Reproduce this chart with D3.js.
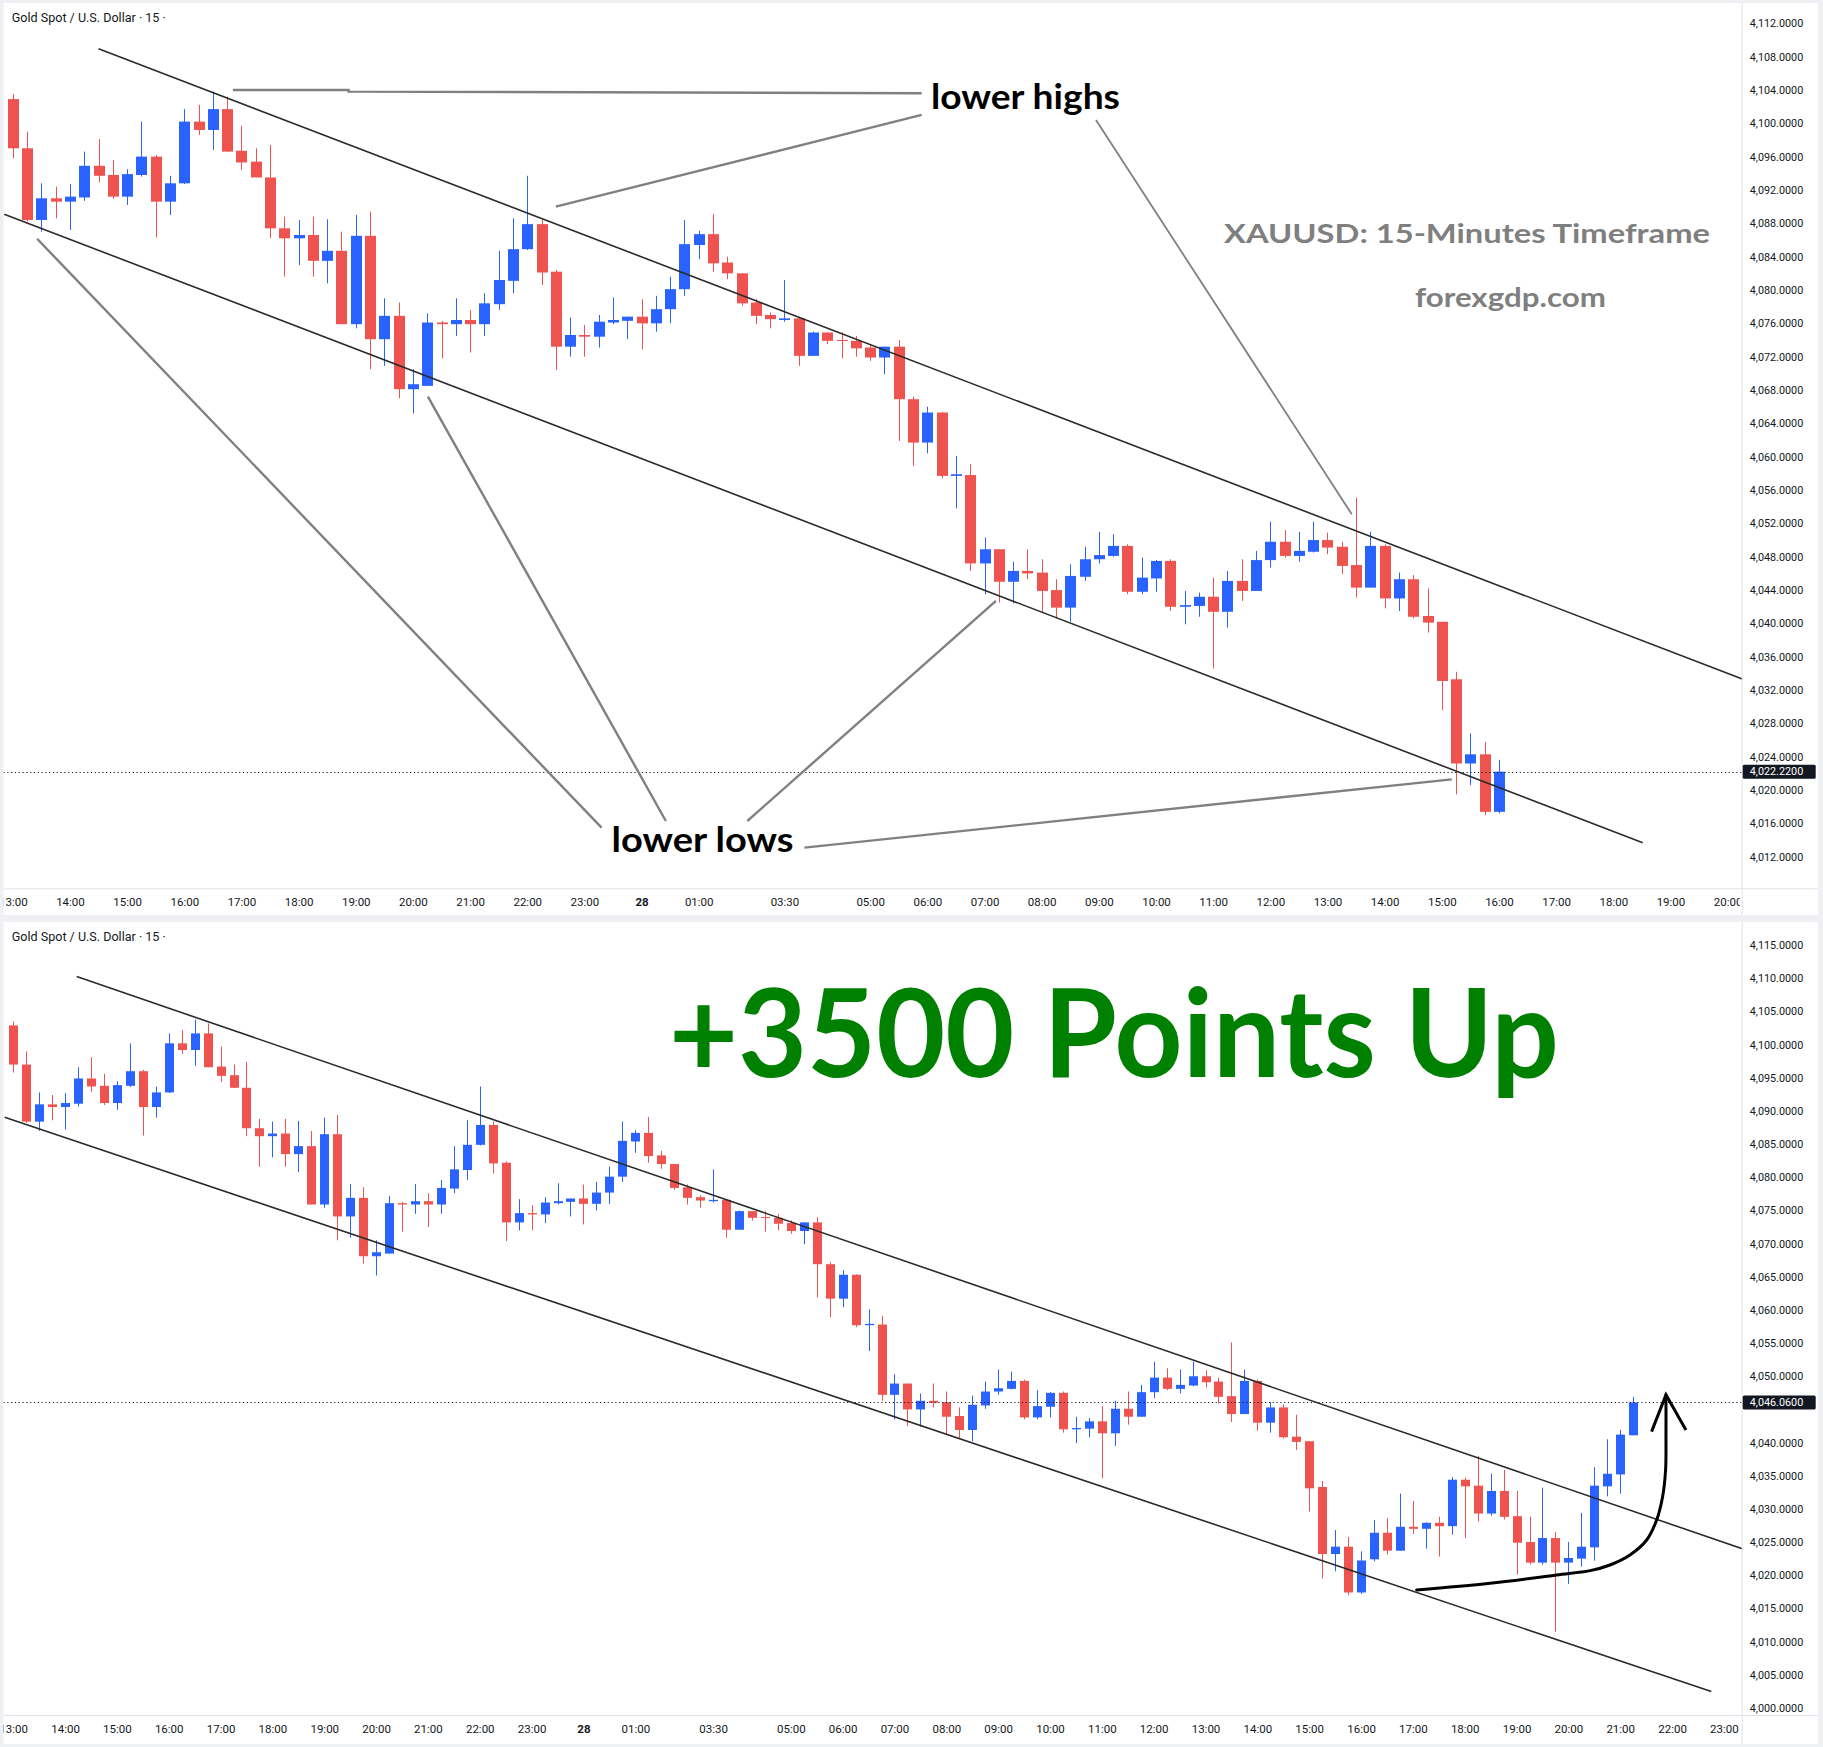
<!DOCTYPE html>
<html><head><meta charset="utf-8">
<script src="https://cdn.jsdelivr.net/npm/d3@7"></script>
<style>body{margin:0;background:#fff}svg{display:block}</style>
</head><body>
<svg id="chart" width="1823" height="1747"></svg>
<script>
// ---- DATA (XAUUSD 15-minute candles) ----
const opens  = [4102.9,4097.0,4088.4,4091.0,4090.6,4091.1,4094.9,4093.8,4091.2,4093.8,4096.0,4090.6,4092.8,4100.2,4099.2,4101.7,4096.7,4095.4,4093.5,4087.4,
                4086.2,4086.6,4083.5,4084.7,4075.9,4086.5,4074.1,4076.9,4068.1,4068.5,4076.1,4075.9,4076.4,4075.9,4078.3,4081.1,4084.9,4087.9,4082.2,4073.2,
                4074.6,4074.4,4076.1,4076.3,4076.8,4076.0,4077.7,4080.1,4085.4,4086.7,4083.3,4082.0,4078.5,4077.0,4076.4,4076.6,4072.1,4074.9,4074.0,4073.9,
                4073.1,4071.9,4073.2,4066.9,4061.7,4065.3,4057.7,4057.8,4047.2,4048.9,4045.0,4046.3,4046.1,4044.0,4041.9,4045.6,4047.7,4048.1,4049.3,4043.8,
                4045.4,4047.5,4042.0,4042.1,4043.2,4041.4,4045.1,4043.9,4047.6,4049.8,4048.1,4048.6,4050.0,4049.2,4047.0,4044.3,4049.3,4043.0,4045.3,4040.9,
                4040.2,4033.3,4023.2,4024.3,4017.4,4022.4,4026.4,4023.7,4027.3,4027.0,4027.9,4027.4,4034.4,4033.5,4029.3,4032.7,4028.9,4025.0,4021.9,4025.6,
                4021.9,4022.5,4024.2,4033.4,4035.2,4041.1];
const highs  = [4103.5,4099.0,4092.8,4092.4,4092.7,4096.6,4098.1,4095.6,4094.5,4100.2,4096.2,4093.7,4101.7,4102.2,4103.8,4103.2,4099.7,4097.0,4097.4,4088.8,
                4088.4,4088.8,4088.5,4087.0,4089.0,4089.4,4079.0,4078.5,4070.5,4077.2,4076.3,4079.0,4077.6,4079.6,4084.7,4088.6,4093.7,4088.4,4082.4,4076.7,
                4075.8,4077.0,4079.1,4076.8,4078.9,4079.3,4081.6,4088.4,4087.1,4089.1,4084.0,4082.0,4078.9,4077.3,4081.2,4076.6,4075.0,4074.9,4074.9,4074.5,
                4073.5,4073.2,4074.0,4067.2,4066.0,4065.4,4060.1,4059.1,4050.3,4048.9,4047.4,4048.9,4047.7,4045.3,4047.1,4049.2,4051.0,4050.7,4049.5,4047.9,
                4047.6,4047.7,4043.9,4043.7,4045.5,4046.3,4047.7,4048.7,4052.2,4051.2,4051.0,4052.2,4050.9,4049.8,4055.1,4051.0,4049.5,4046.1,4045.8,4044.2,
                4040.2,4034.2,4026.8,4025.8,4023.6,4028.3,4028.6,4032.3,4031.2,4028.0,4028.8,4034.8,4034.7,4038.0,4035.3,4035.9,4032.7,4028.8,4033.2,4026.5,
                4025.0,4029.4,4036.3,4040.5,4041.9,4046.9];
const lows   = [4095.8,4088.2,4087.0,4088.6,4087.2,4090.7,4092.9,4090.9,4090.2,4093.6,4086.3,4089.0,4092.7,4098.6,4096.8,4096.6,4094.4,4093.5,4086.2,4081.6,
                4083.0,4081.6,4080.8,4075.9,4075.4,4070.5,4070.9,4067.0,4065.2,4068.5,4071.8,4074.5,4072.5,4074.5,4077.6,4079.6,4084.8,4080.6,4070.4,4072.0,
                4072.0,4073.1,4075.9,4074.1,4072.9,4075.0,4076.0,4079.3,4083.7,4082.2,4081.3,4078.1,4075.9,4075.4,4076.2,4070.9,4072.1,4073.5,4071.8,4072.0,
                4071.5,4069.9,4061.9,4058.9,4060.4,4057.4,4053.8,4046.3,4043.5,4042.5,4042.4,4045.3,4041.3,4040.7,4040.2,4045.1,4047.2,4048.0,4043.5,4043.5,
                4043.8,4041.5,4039.9,4040.8,4034.6,4039.5,4042.7,4043.9,4046.7,4047.9,4047.4,4048.5,4048.3,4045.9,4043.1,4044.3,4041.8,4041.5,4040.6,4038.9,
                4029.6,4019.5,4020.6,4017.0,4017.2,4022.1,4023.1,4023.7,4026.2,4024.0,4022.8,4026.1,4025.6,4028.1,4029.0,4028.4,4020.1,4021.6,4021.6,4011.5,
                4018.7,4021.3,4022.2,4031.9,4032.3,4041.1];
const closes = [4097.0,4088.4,4091.0,4090.6,4091.2,4094.9,4093.7,4091.2,4093.9,4096.0,4090.6,4092.8,4100.2,4099.2,4101.7,4096.6,4095.3,4093.5,4087.4,4086.2,
                4086.6,4083.5,4084.7,4075.9,4086.5,4074.1,4076.9,4068.1,4068.7,4076.1,4075.9,4076.4,4075.9,4078.4,4081.2,4084.9,4087.9,4082.1,4073.2,4074.6,
                4074.4,4076.2,4076.4,4076.8,4076.0,4077.7,4080.1,4085.5,4086.7,4083.2,4082.0,4078.4,4076.9,4076.5,4076.6,4072.1,4074.9,4073.9,4073.9,4073.0,
                4071.9,4073.2,4066.9,4061.7,4065.3,4057.7,4057.9,4047.2,4048.9,4045.0,4046.3,4046.0,4043.9,4041.9,4045.7,4047.7,4048.2,4049.3,4043.8,4045.5,
                4047.5,4042.0,4042.2,4043.2,4041.4,4045.1,4043.9,4047.6,4049.8,4048.1,4048.7,4050.0,4049.1,4046.9,4044.3,4049.3,4043.0,4045.3,4040.8,4040.1,
                4033.1,4023.2,4024.3,4017.4,4022.22,4026.4,4023.7,4027.3,4027.0,4027.9,4027.4,4034.4,4033.4,4029.3,4032.7,4028.8,4024.9,4021.9,4025.6,4021.9,
                4022.6,4024.3,4033.5,4035.3,4041.2,4046.06];
const topCandleCount = 105;   // the upper chart stops at the 16:00 candle
const topLastPrice = 4022.22;
const bottomLastPrice = 4046.06;

const topPriceTicks = [4012,4016,4020,4024,4028,4032,4036,4040,4044,4048,4052,4056,4060,4064,4068,4072,4076,4080,4084,4088,4092,4096,4100,4104,4108,4112];
const bottomPriceTicks = [4000,4005,4010,4015,4020,4025,4030,4035,4040,4045,4050,4055,4060,4065,4070,4075,4080,4085,4090,4095,4100,4105,4110,4115];

const timeTickIndex  = [0,4,8,12,16,20,24,28,32,36,40,44,48,54,60,64,68,72,76,80,84,88,92,96,100,104,108,112,116,120,124,128,132];
const timeTickLabels = ["13:00","14:00","15:00","16:00","17:00","18:00","19:00","20:00","21:00","22:00","23:00","28","01:00","03:30",
                        "05:00","06:00","07:00","08:00","09:00","10:00","11:00","12:00","13:00","14:00","15:00","16:00","17:00","18:00",
                        "19:00","20:00","21:00","22:00","23:00"];

// ---- drawings (in candle-index / price coordinates) ----
const topUpperChannel = [[6,4108.95],[122,4032.7]];
const topLowerChannel = [[-0.6,4089.1],[114.06,4013.7]];
const lowerHighsLinks = [
  [[15.4,4104.0],[23.5,4104.0],[23.5,4103.8],[63.6,4103.6]],
  [[38.0,4090.0],[63.6,4101.0]],
  [[75.8,4100.4],[93.7,4053.1]]
];
const lowerLowsLinks = [
  [[1.7,4086.15],[41.2,4015.5]],
  [[29.05,4067.2],[45.7,4016.3]],
  [[68.8,4042.7],[51.4,4016.3]],
  [[55.4,4013.1],[100.7,4021.3]]
];
const bottomUpperChannel = [[4.9,4110.27],[134,4023.6]];
const bottomLowerChannel = [[-0.66,4089.05],[131.03,4002.45]];
const arrowPath = [[108.29,4017.78],[113.95,4018.78],[119.09,4020.04],[121.67,4020.69],[123.21,4021.54],[124.75,4023.05],
                   [126.04,4025.31],[126.81,4028.33],[127.27,4031.84],[127.5,4035.87],[127.53,4041.4],[127.53,4047.18]];
const arrowHead = [[126.42,4041.65],[127.53,4047.2],[129.07,4041.9]];

// ---- rendering ----
const W = 1823, H = 1747;
const svg = d3.select('#chart');
svg.append('rect').attr('width', W).attr('height', H).attr('fill', '#eef0f4');
const defs = svg.append('defs');
const UP = '#2962ff', DOWN = '#ef5350', TXT = '#131722', SEP = '#e0e3eb';
const candles = opens.map((o, i) => ({i, o, h: highs[i], l: lows[i], c: closes[i]}));

function makePanel(cfg) {
  const g = svg.append('g');
  g.append('rect').attr('x', cfg.left).attr('y', cfg.top)
    .attr('width', cfg.right - cfg.left).attr('height', cfg.bottom - cfg.top).attr('fill', '#fff');
  const x = d3.scaleLinear().domain(cfg.xDomain).range(cfg.xRange);
  const y = d3.scaleLinear().domain(cfg.yDomain).range(cfg.yRange);
  const clipId = 'clip' + cfg.id;
  defs.append('clipPath').attr('id', clipId).append('rect')
    .attr('x', cfg.left).attr('y', cfg.top).attr('width', cfg.plotRight - cfg.left).attr('height', cfg.plotBottom - cfg.top);
  const axClipId = 'axclip' + cfg.id;
  defs.append('clipPath').attr('id', axClipId).append('rect')
    .attr('x', cfg.left).attr('y', cfg.plotBottom).attr('width', cfg.plotRight - cfg.left - 2).attr('height', cfg.bottom - cfg.plotBottom);

  g.append('line').attr('x1', cfg.plotRight + 0.5).attr('x2', cfg.plotRight + 0.5).attr('y1', cfg.top).attr('y2', cfg.bottom)
    .attr('stroke', SEP).attr('stroke-width', 1);
  g.append('line').attr('x1', cfg.left).attr('x2', cfg.right).attr('y1', cfg.plotBottom + 0.5).attr('y2', cfg.plotBottom + 0.5)
    .attr('stroke', SEP).attr('stroke-width', 1);

  const plot = g.append('g').attr('clip-path', `url(#${clipId})`);
  const line = d3.line().x(d => x(d[0])).y(d => y(d[1]));

  const data = candles.slice(0, cfg.count);
  const bw = cfg.bodyWidth;
  const cg = plot.selectAll('g.candle').data(data).join('g').attr('class', 'candle')
    .attr('fill', d => d.c >= d.o ? UP : DOWN).attr('stroke', d => d.c >= d.o ? UP : DOWN);
  cg.append('line')
    .attr('x1', d => Math.round(x(d.i)) + 0.5).attr('x2', d => Math.round(x(d.i)) + 0.5)
    .attr('y1', d => y(d.h)).attr('y2', d => y(d.l)).attr('stroke-width', 1);
  cg.append('rect').attr('stroke', 'none')
    .attr('x', d => Math.round(x(d.i)) - (bw - 1) / 2).attr('width', bw)
    .attr('y', d => y(Math.max(d.o, d.c)))
    .attr('height', d => Math.max(1, Math.abs(y(d.o) - y(d.c))));

  plot.append('line').attr('x1', cfg.left).attr('x2', cfg.plotRight)
    .attr('y1', Math.round(y(cfg.last)) + 0.5).attr('y2', Math.round(y(cfg.last)) + 0.5)
    .attr('stroke', TXT).attr('stroke-width', 1).attr('stroke-dasharray', '1.2,2.6');

  // price ticks hidden behind the last-price label are not drawn
  const shownTicks = cfg.priceTicks.filter(v => Math.abs(y(v) - y(cfg.last)) > 10);
  const ay = g.append('g').attr('transform', `translate(${cfg.plotRight},0)`)
    .call(d3.axisRight(y).tickValues(shownTicks).tickFormat(d3.format(',.4f')).tickSize(0).tickPadding(8));
  ay.select('.domain').remove();
  ay.selectAll('text').attr('fill', TXT).attr('font-family', 'Roboto, sans-serif').attr('font-size', 10.8);

  g.append('rect').attr('x', cfg.plotRight + 1).attr('y', y(cfg.last) - 7).attr('width', 73).attr('height', 14)
    .attr('fill', TXT).attr('rx', 1.5);
  g.append('text').attr('x', cfg.plotRight + 8).attr('y', y(cfg.last)).attr('dy', '0.35em')
    .attr('fill', '#fff').attr('font-family', 'Roboto, sans-serif').attr('font-size', 10.8)
    .text(d3.format(',.4f')(cfg.last));

  const ti = timeTickIndex.filter(v => v <= cfg.xDomain[1] + 0.5);
  const axOuter = g.append('g').attr('clip-path', `url(#${axClipId})`);
  const ax = axOuter.append('g').attr('transform', `translate(0,${cfg.plotBottom})`)
    .call(d3.axisBottom(x).tickValues(ti).tickFormat(d => timeTickLabels[timeTickIndex.indexOf(d)]).tickSize(0).tickPadding(10));
  ax.select('.domain').remove();
  ax.selectAll('text').attr('fill', TXT).attr('font-family', 'Roboto, sans-serif').attr('font-size', 11.5)
    .attr('font-weight', d => timeTickLabels[timeTickIndex.indexOf(d)] === '28' ? 700 : 400);

  g.append('text').attr('x', cfg.left + 8.3).attr('y', cfg.top + 18.5)
    .attr('fill', TXT).attr('font-family', 'Roboto, sans-serif').attr('font-size', 12.5)
    .attr('textLength', 154).attr('lengthAdjust', 'spacingAndGlyphs')
    .text('Gold Spot / U.S. Dollar · 15 ·');

  return {g, plot, x, y, line};
}

// ---- top panel ----
const topPanel = makePanel({
  id: 'T', left: 3.5, top: 3, right: 1818, bottom: 915, plotRight: 1741.7, plotBottom: 888.3,
  xDomain: [0, 120], xRange: [12.8, 1727.6], yDomain: [4012, 4112], yRange: [856.85, 23.25],
  count: topCandleCount, bodyWidth: 11, last: topLastPrice, priceTicks: topPriceTicks
});
[topUpperChannel, topLowerChannel].forEach(p =>
  topPanel.plot.append('path').attr('d', topPanel.line(p)).attr('fill', 'none').attr('stroke', '#2b2b2b').attr('stroke-width', 1.6));
lowerHighsLinks.forEach((p, k) =>
  topPanel.plot.append('path').attr('d', topPanel.line(p)).attr('fill', 'none').attr('stroke', '#808080')
    .attr('stroke-width', k === 2 ? 1.8 : 2.4));
lowerLowsLinks.forEach(p =>
  topPanel.plot.append('path').attr('d', topPanel.line(p)).attr('fill', 'none').attr('stroke', '#808080').attr('stroke-width', 2.4));

function label(panel, txt, at, size, width, color, weight) {
  panel.plot.append('text').attr('x', panel.x(at[0])).attr('y', panel.y(at[1]))
    .attr('font-family', 'Lato, "Open Sans", sans-serif').attr('font-weight', weight).attr('font-size', size)
    .attr('fill', color).attr('textLength', width).attr('lengthAdjust', 'spacingAndGlyphs').text(txt);
}
label(topPanel, 'lower highs', [64.25, 4101.75], 34, 189, '#000', 700);
label(topPanel, 'lower lows', [41.9, 4012.6], 34, 182, '#000', 700);
label(topPanel, 'XAUUSD: 15-Minutes Timeframe', [84.76, 4085.6], 27, 486, '#7f7f7f', 700);
label(topPanel, 'forexgdp.com', [98.12, 4077.97], 27, 191, '#7f7f7f', 700);

// ---- bottom panel ----
const botPanel = makePanel({
  id: 'B', left: 3.5, top: 922, right: 1818, bottom: 1744, plotRight: 1741.7, plotBottom: 1715,
  xDomain: [0, 132], xRange: [13.2, 1723.9], yDomain: [4000, 4115], yRange: [1707.85, 945.2],
  count: candles.length, bodyWidth: 9, last: bottomLastPrice, priceTicks: bottomPriceTicks
});
[bottomUpperChannel, bottomLowerChannel].forEach(p =>
  botPanel.plot.append('path').attr('d', botPanel.line(p)).attr('fill', 'none').attr('stroke', '#2b2b2b').attr('stroke-width', 1.6));
const curveLine = d3.line().x(d => botPanel.x(d[0])).y(d => botPanel.y(d[1])).curve(d3.curveCatmullRom.alpha(0.5));
botPanel.plot.append('path').attr('d', curveLine(arrowPath))
  .attr('fill', 'none').attr('stroke', '#000').attr('stroke-width', 3).attr('stroke-linecap', 'round');
botPanel.plot.append('path').attr('d', botPanel.line(arrowHead)).attr('fill', 'none').attr('stroke', '#000')
  .attr('stroke-width', 3).attr('stroke-linejoin', 'miter');
label(botPanel, '+3500 Points Up', [50.6, 4095.13], 122, 890, '#008000', 700);
</script>
</body></html>
